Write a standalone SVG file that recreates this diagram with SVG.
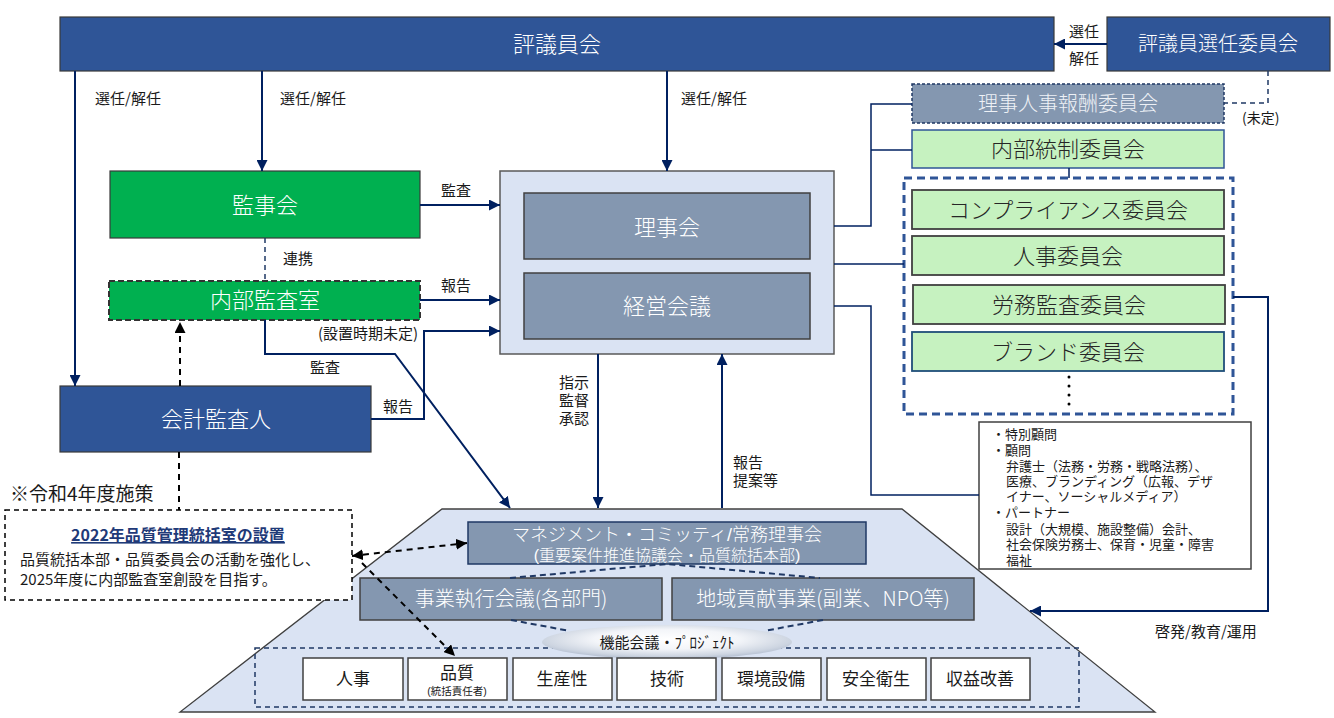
<svg xmlns="http://www.w3.org/2000/svg" width="1334" height="718" viewBox="0 0 1334 718">
<style>
text{font-family:"Noto Sans CJK JP","Noto Sans",sans-serif;}
.navy{fill:#2f5597;stroke:#3a3a3a;stroke-width:1.2;}
.green{fill:#00b050;stroke:#3a3a3a;stroke-width:1.2;}
.lg{fill:#c6f2c0;stroke:#404040;stroke-width:1.8;}
.lgn{fill:#c6f2c0;stroke:#1f4e79;stroke-width:1.8;}
.gb{fill:#8497b0;stroke:#404040;stroke-width:1.5;}
.wt{fill:#ffffff;font-size:22px;text-anchor:middle;font-weight:300;}
.dk{fill:#262626;font-size:22px;text-anchor:middle;font-weight:300;}
.lbl{fill:#1a1a1a;font-size:15px;}
.tight{font-family:"Liberation Sans","Noto Sans CJK JP",sans-serif;}
.small{fill:#1a1a1a;font-size:13px;font-family:"Liberation Sans","Noto Sans CJK JP",sans-serif;}
.conn{fill:none;stroke:#002060;stroke-width:2;}
.dash{fill:none;stroke:#000;stroke-width:2;stroke-dasharray:6,5;}
.ndash{fill:none;stroke:#1f3864;stroke-width:2;stroke-dasharray:6,4;}
.box{fill:#fff;stroke:#404040;stroke-width:1.5;}
.bt{fill:#1a1a1a;font-size:17px;text-anchor:middle;}
</style>
<defs>
<marker id="an" viewBox="0 0 10 10" refX="10" refY="5" markerWidth="11" markerHeight="11" markerUnits="userSpaceOnUse" orient="auto"><path d="M0,0 L10,5 L0,10 z" fill="#002060"/></marker>
<marker id="ab" viewBox="0 0 10 10" refX="10" refY="5" markerWidth="11" markerHeight="11" markerUnits="userSpaceOnUse" orient="auto-start-reverse"><path d="M0,0 L10,5 L0,10 z" fill="#000"/></marker>
<radialGradient id="eg" cx="0.5" cy="0.42" r="0.58">
<stop offset="0" stop-color="#ffffff"/>
<stop offset="0.5" stop-color="#f3f5f9"/>
<stop offset="0.85" stop-color="#cdd5e1"/>
<stop offset="1" stop-color="#b3bed0"/>
</radialGradient>
</defs>

<!-- base trapezoid -->
<g id="base">
<polygon points="442,509 902,509 1155,712 180,712" fill="#dae3f3" stroke="#404040" stroke-width="1.3"/>
<rect x="255" y="648" width="824" height="59" fill="none" stroke="#1f3864" stroke-width="1.5" stroke-dasharray="5,4"/>
</g>

<g id="hyogiinkai"><rect class="navy" x="60" y="17" width="994" height="54"/><text class="wt" x="557" y="52">評議員会</text></g>
<g id="senninkai"><rect class="navy" x="1107" y="17" width="223" height="54"/><text class="wt" x="1218" y="51" style="font-size:20px">評議員選任委員会</text></g>
<g id="hoshu"><rect x="912" y="84" width="312" height="39" fill="#8497b0" stroke="#1f3864" stroke-width="1.5" stroke-dasharray="3,2"/><text class="wt" x="1068" y="111" style="font-size:20px;fill:#eef1f6">理事人事報酬委員会</text></g>
<g id="naibutosei"><rect x="912" y="130" width="312" height="38" fill="#c6f2c0" stroke="#2f5597" stroke-width="1.5"/><text class="dk" x="1068" y="157">内部統制委員会</text></g>
<g id="iinkai-group"><rect x="904" y="178" width="329" height="236" fill="none" stroke="#2f5597" stroke-width="3" stroke-dasharray="8,5"/>
<circle cx="1069" cy="377" r="1.5" fill="#000"/><circle cx="1069" cy="386" r="1.5" fill="#000"/><circle cx="1069" cy="395" r="1.5" fill="#000"/><circle cx="1069" cy="404" r="1.5" fill="#000"/></g>
<g id="compliance"><rect class="lg" x="912" y="190" width="312" height="39"/><text class="dk" x="1068" y="218">コンプライアンス委員会</text></g>
<g id="jinji"><rect class="lg" x="912" y="236" width="312" height="39"/><text class="dk" x="1068" y="264">人事委員会</text></g>
<g id="romu"><rect class="lg" x="913" y="285" width="312" height="39"/><text class="dk" x="1069" y="313">労務監査委員会</text></g>
<g id="brand"><rect class="lgn" x="912" y="332" width="312" height="39"/><text class="dk" x="1068" y="360">ブランド委員会</text></g>

<g id="rijikai-outer"><rect x="500" y="171" width="334" height="183" fill="#dae3f3" stroke="#595959" stroke-width="1.5"/></g>
<g id="rijikai"><rect class="gb" x="524" y="193" width="286" height="66"/><text class="wt" x="667" y="235">理事会</text></g>
<g id="keiei"><rect class="gb" x="524" y="273" width="286" height="66"/><text class="wt" x="667" y="314">経営会議</text></g>

<g id="kanjikai"><rect class="green" x="110" y="171" width="310" height="67"/><text class="wt" x="265" y="213">監事会</text></g>
<g id="naibukansa"><rect x="109" y="281" width="311" height="39" fill="#00b050" stroke="#333" stroke-width="2" stroke-dasharray="6,3"/><text class="wt" x="265" y="308">内部監査室</text></g>
<g id="kaikei"><rect class="navy" x="60" y="386" width="311" height="66"/><text class="wt" x="216" y="427">会計監査人</text></g>

<g id="komon"><rect x="979" y="422" width="272" height="147" fill="#fff" stroke="#404040" stroke-width="1.5"/>
<text class="small"><tspan x="992" y="439">・特別顧問</tspan><tspan x="992" y="455">・顧問</tspan><tspan x="1006" y="471">弁護士（法務・労務・戦略法務）、</tspan><tspan x="1006" y="486">医療、ブランディング（広報、デザ</tspan><tspan x="1006" y="501">イナー、ソーシャルメディア）</tspan><tspan x="992" y="517">・パートナー</tspan><tspan x="1006" y="534">設計（大規模、施設整備）会計、</tspan><tspan x="1006" y="549">社会保険労務士、保育・児童・障害</tspan><tspan x="1006" y="565">福祉</tspan></text>
</g>

<g id="note"><rect x="5" y="510" width="347" height="90" fill="#fff" stroke="#000" stroke-width="1.5" stroke-dasharray="5,4"/>
<text x="178" y="541" text-anchor="middle" style="font-size:16px;font-weight:bold;fill:#1f3a78;text-decoration:underline">2022年品質管理統括室の設置</text>
<text style="font-size:15px;fill:#1a1a1a"><tspan x="20" y="565">品質統括本部・品質委員会の活動を強化し、</tspan><tspan x="20" y="585">2025年度に内部監査室創設を目指す。</tspan></text>
</g>
<text x="10" y="501" style="font-size:19px;fill:#1a1a1a">※令和4年度施策</text>

<g id="management"><rect x="468" y="522" width="398" height="42" fill="#8497b0" stroke="#1f3864" stroke-width="1.5"/>
<text class="wt tight" x="667" y="541" style="font-size:18px">マネジメント・コミッティ/常務理事会</text>
<text class="wt tight" x="667" y="561" style="font-size:16px">(重要案件推進協議会・品質統括本部)</text></g>
<g id="jigyo"><rect class="gb" x="360" y="578" width="302" height="42"/><text class="wt" x="511" y="606" style="font-size:20px">事業執行会議(各部門)</text></g>
<g id="chiiki"><rect class="gb" x="672" y="578" width="302" height="42"/><text class="wt" x="823" y="606" style="font-size:20px">地域貢献事業(副業、NPO等)</text></g>

<g id="connectors">
<line class="conn" x1="75" y1="71" x2="75" y2="386" marker-end="url(#an)"/>
<line class="conn" x1="262" y1="71" x2="262" y2="171" marker-end="url(#an)"/>
<line class="conn" x1="667" y1="71" x2="667" y2="171" marker-end="url(#an)"/>
<line class="conn" x1="1107" y1="44" x2="1054" y2="44" marker-end="url(#an)"/>
<polyline points="1268,71 1268,103 1224,103" fill="none" stroke="#1f3864" stroke-width="1.5" stroke-dasharray="5,4"/>
<polyline class="conn" points="834,226 871,226 871,104 912,104" style="stroke-width:1.5"/>
<line class="conn" x1="871" y1="150" x2="912" y2="150" style="stroke-width:1.5"/>
<line class="conn" x1="834" y1="264" x2="904" y2="264" style="stroke-width:1.5"/>
<polyline class="conn" points="834,306 871,306 871,495 979,495" style="stroke-width:1.5"/>
<polyline class="conn" points="1233,297 1268,297 1268,611 1030,611" marker-end="url(#an)"/>
<line class="conn" x1="1069" y1="168" x2="1069" y2="178" style="stroke-width:1.5"/>
<line class="conn" x1="420" y1="205" x2="500" y2="205" marker-end="url(#an)"/>
<line x1="265" y1="238" x2="265" y2="281" stroke="#1f3864" stroke-width="1.5" stroke-dasharray="5,4"/>
<line class="conn" x1="420" y1="300" x2="500" y2="300" marker-end="url(#an)"/>
<polyline class="conn" points="371,419 424,419 424,331 500,331" marker-end="url(#an)"/>
<polyline class="conn" points="265,320 265,354 395,354 510,508" marker-end="url(#an)"/>
<line class="conn" x1="598" y1="354" x2="598" y2="508" marker-end="url(#an)"/>
<line class="conn" x1="722" y1="508" x2="722" y2="354" marker-end="url(#an)"/>
<line class="dash" x1="180" y1="386" x2="180" y2="322" marker-end="url(#ab)"/>
<line class="dash" x1="179" y1="452" x2="179" y2="510"/>
<line class="dash" x1="352" y1="556" x2="467" y2="543" marker-start="url(#ab)" marker-end="url(#ab)"/>
<line class="dash" x1="362" y1="563" x2="455" y2="656" marker-end="url(#ab)"/>
<polyline class="ndash" points="510,578 667,564 820,578"/>
<line class="ndash" x1="511" y1="620" x2="570" y2="631"/>
<line class="ndash" x1="823" y1="620" x2="764" y2="631"/>
</g>

<g id="kino"><ellipse cx="667" cy="642" rx="125" ry="17" fill="url(#eg)"/><text x="667" y="648" text-anchor="middle" style="font-size:15px;fill:#1a1a1a">機能会議・ﾌﾟﾛｼﾞｪｸﾄ</text></g>

<g id="b-jinji"><rect class="box" x="303" y="658" width="100" height="42"/><text class="bt" x="353" y="685">人事</text></g>
<g id="b-hinshitsu"><rect class="box" x="408" y="658" width="99" height="42"/><text class="bt tight" x="457" y="679">品質</text><text class="tight" x="457" y="695" text-anchor="middle" style="font-size:10.5px;fill:#1a1a1a">(統括責任者)</text></g>
<g id="b-seisan"><rect class="box" x="513" y="658" width="99" height="42"/><text class="bt" x="562" y="685">生産性</text></g>
<g id="b-gijutsu"><rect class="box" x="617" y="658" width="99" height="42"/><text class="bt" x="667" y="685">技術</text></g>
<g id="b-kankyo"><rect class="box" x="722" y="658" width="99" height="42"/><text class="bt" x="771" y="685">環境設備</text></g>
<g id="b-anzen"><rect class="box" x="827" y="658" width="99" height="42"/><text class="bt" x="876" y="685">安全衛生</text></g>
<g id="b-shueki"><rect class="box" x="931" y="658" width="99" height="42"/><text class="bt" x="980" y="685">収益改善</text></g>

<g id="labels">
<text class="lbl" x="95" y="104">選任/解任</text>
<text class="lbl" x="280" y="104">選任/解任</text>
<text class="lbl" x="681" y="104">選任/解任</text>
<text class="lbl" x="1069" y="37">選任</text>
<text class="lbl" x="1069" y="64">解任</text>
<text class="lbl" x="1242" y="123" style="font-size:14px">(未定)</text>
<text class="lbl" x="441" y="196">監査</text>
<text class="lbl" x="283" y="264">連携</text>
<text class="lbl" x="441" y="291">報告</text>
<text class="lbl" x="318" y="339">(設置時期未定)</text>
<text class="lbl" x="310" y="373">監査</text>
<text class="lbl" x="383" y="412">報告</text>
<text class="lbl tight"><tspan x="559" y="388">指示</tspan><tspan x="559" y="406">監督</tspan><tspan x="559" y="424">承認</tspan></text>
<text class="lbl tight"><tspan x="733" y="468">報告</tspan><tspan x="733" y="486">提案等</tspan></text>
<text class="lbl" x="1155" y="637">啓発/教育/運用</text>
</g>
</svg>
